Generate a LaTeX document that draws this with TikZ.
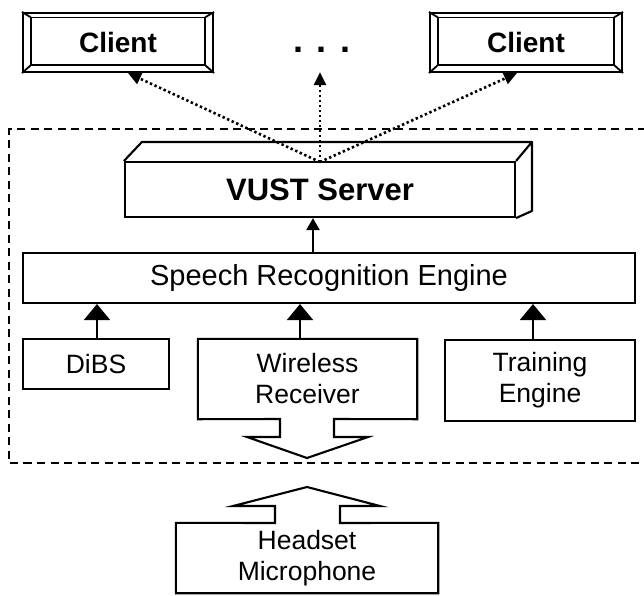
\documentclass[tikz,border=0pt]{standalone}
\usepackage{fontspec}
\setmainfont{Liberation Sans}
\usetikzlibrary{arrows.meta}
\begin{document}
\begin{tikzpicture}[x=1pt,y=-1pt,
  box/.style={draw,line width=2.1pt,minimum width=#1,inner sep=0pt,align=center,font=\fontsize{26.5}{31}\selectfont},
  ghost/.style={inner sep=0pt,align=center,font=\fontsize{26.5}{31}\selectfont},
  solidarr/.style={line width=2.1pt,-{Triangle[width=26pt,length=16pt]}},
  smallarr/.style={line width=2.1pt,-{Triangle[width=13pt,length=12pt]}},
  dotarr/.style={line width=2.6pt,dash pattern=on 2.4pt off 2.6pt,-{Triangle[width=12pt,length=13pt]}},
  frame/.style={line width=1.5pt,dash pattern=on 8pt off 5.5pt}]
\useasboundingbox (0,0) rectangle (644,595);

% dashed enclosure
\draw[frame] (646,129) -- (9,129) -- (9,463) -- (646,463);

% clients
\node[box=190pt,minimum height=59pt,font=\fontsize{28}{32}\selectfont\bfseries] (c1) at (118,42.5) {Client};
\node[box=192pt,minimum height=59pt,font=\fontsize{28}{32}\selectfont\bfseries] (c2) at (526,42.5) {Client};
\foreach \c in {c1,c2}{
  \draw[line width=1.8pt] ([xshift=9pt,yshift=-5.5pt]\c.north west) coordinate (\c a)
     -- ([xshift=-9pt,yshift=-5.5pt]\c.north east) coordinate (\c b)
     -- ([xshift=-9pt,yshift=8pt]\c.south east) coordinate (\c c)
     -- ([xshift=9pt,yshift=8pt]\c.south west) coordinate (\c d) -- cycle;
  \draw[line width=1.8pt] (\c.north west) -- (\c a) (\c.north east) -- (\c b)
     (\c.south east) -- (\c c) (\c.south west) -- (\c d);
}
\node[inner sep=0pt,minimum height=44pt,font=\fontsize{36}{36}\selectfont\bfseries] (dots) at (322,50) {. . .};

% VUST server
\node[box=390pt,minimum height=55pt,font=\fontsize{31}{36}\selectfont\bfseries] (vust) at (320,189.5) {VUST Server};
\draw[line width=2.1pt,line join=round] (vust.north west) -- ++(18,-19) coordinate (vtl) -- ++(390,0) coordinate (vtr)
  -- (vust.north east) (vtr) -- ++(0,69) -- (vust.south east);

% speech recognition engine
\node[box=612pt,minimum height=50pt,font=\fontsize{29}{34}\selectfont] (sre) at (329,278) {Speech Recognition Engine};

% lower boxes
\node[box=146pt,minimum height=50pt] (dibs) at (96,364) {DiBS};
\node[box=190pt,minimum height=81pt] (train) at (540,380.5) {Training\\Engine};
\node[ghost,minimum width=219pt,minimum height=80pt] (wr) at (307.5,379) {Wireless\\Receiver};
\draw[line width=2.1pt] (wr.north west) -- (wr.north east) -- (wr.south east)
  -- (334,419) -- (334,437) -- (368,437) -- (307,458) -- (247,437) -- (280,437) -- (280,419)
  -- (wr.south west) -- cycle;

\node[ghost,minimum width=262pt,minimum height=70pt] (hm) at (307,558) {Headset\\Microphone};
\draw[line width=2.1pt] (hm.south west) -- (hm.north west) -- (275,523) -- (275,506) -- (233,506)
  -- (307,487) -- (380,506) -- (340,506) -- (340,523) -- (hm.north east) -- (hm.south east) -- cycle;

% arrows
\draw[smallarr] (sre.north -| 313,0) -- (vust.south -| 313,0);
\draw[solidarr] (dibs.north -| 97,0) -- (sre.south -| 97,0);
\draw[solidarr] (wr.north -| 300,0) -- (sre.south -| 300,0);
\draw[solidarr] (train.north -| 533,0) -- (sre.south -| 533,0);

\coordinate (src) at (320,162);
\draw[dotarr] (src) -- (c1.south -| 128,0);
\draw[dotarr] (src) -- (dots.south -| 320,0);
\draw[dotarr] (src) -- (c2.south -| 517,0);
\end{tikzpicture}
\end{document}
